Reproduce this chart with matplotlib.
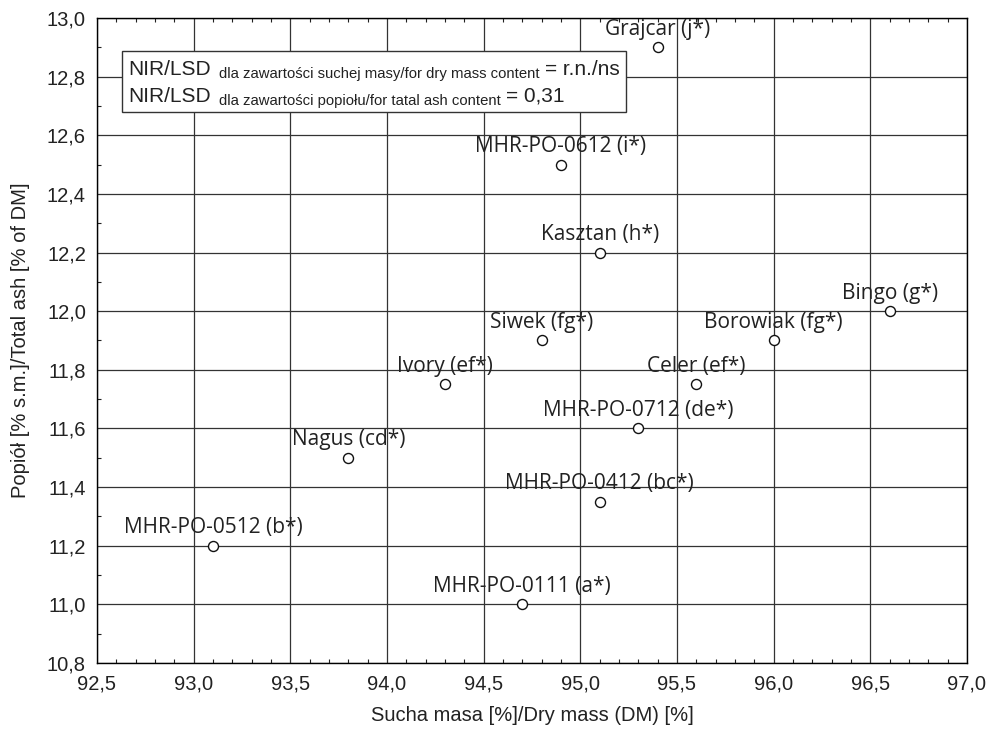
import matplotlib.pyplot as plt
from matplotlib.ticker import MultipleLocator, FuncFormatter
from matplotlib.patches import Rectangle

# data
names = ['Grajcar (j*)', 'MHR-PO-0612 (i*)', 'Kasztan (h*)', 'Bingo (g*)',
         'Siwek (fg*)', 'Borowiak (fg*)', 'Ivory (ef*)', 'Celer (ef*)',
         'MHR-PO-0712 (de*)', 'Nagus (cd*)', 'MHR-PO-0412 (bc*)',
         'MHR-PO-0512 (b*)', 'MHR-PO-0111 (a*)']
dry_mass = [95.4, 94.9, 95.1, 96.6, 94.8, 96.0, 94.3, 95.6, 95.3, 93.8, 95.1, 93.1, 94.7]
ash = [12.9, 12.5, 12.2, 12.0, 11.9, 11.9, 11.75, 11.75, 11.6, 11.5, 11.35, 11.2, 11.0]

lsd_rows = [('dla zawartości suchej masy/for dry mass content', '= r.n./ns'),
            ('dla zawartości popiołu/for tatal ash content', '= 0,31')]

plt.rcParams['font.family'] = ['Liberation Sans', 'DejaVu Sans']
W, H = 990, 736

fig = plt.figure(figsize=(9.9, 7.36), dpi=100)
ax = fig.add_axes([97/W, 73/H, 870/W, 645/H])

ax.scatter(dry_mass, ash, s=52, facecolors='white', edgecolors='#111111',
           linewidths=1.0, zorder=3)
for n, x, y in zip(names, dry_mass, ash):
    ax.annotate(n, (x, y), xytext=(0, 9), textcoords='offset points',
                ha='center', va='baseline', fontsize=15, family='Open Sans',
                color='#222222', zorder=4)

ax.set_xlim(92.5, 97.0)
ax.set_ylim(10.8, 13.0)
ax.xaxis.set_major_locator(MultipleLocator(0.5))
ax.xaxis.set_minor_locator(MultipleLocator(0.1))
ax.yaxis.set_major_locator(MultipleLocator(0.2))
ax.yaxis.set_minor_locator(MultipleLocator(0.1))
comma = FuncFormatter(lambda v, p: f'{v:.1f}'.replace('.', ','))
ax.xaxis.set_major_formatter(comma)
ax.yaxis.set_major_formatter(comma)
ax.tick_params(which='both', direction='in', top=True, labelsize=14.5,
               colors='#222222')
ax.tick_params(which='major', length=0, pad=8)
ax.tick_params(which='minor', length=3, width=0.8)
ax.grid(True, which='major', color='#333333', linewidth=0.9)
ax.set_axisbelow(True)
for s in ax.spines.values():
    s.set_linewidth(1.0)

ax.set_xlabel('Sucha masa [%]/Dry mass (DM) [%]', fontsize=14.5, labelpad=9,
              color='#222222')
ax.set_ylabel('Popiół [% s.m.]/Total ash [% of DM]', fontsize=14.5, labelpad=12,
              color='#222222')

# annotation box with LSD values
box = Rectangle((122/W, 1 - 112/H), 504/W, 61/H, transform=fig.transFigure,
                facecolor='white', edgecolor='#333333', linewidth=1.0,
                zorder=5, clip_on=False)
ax.add_patch(box)

fig.canvas.draw()
r = fig.canvas.get_renderer()
for (small, val), base in zip(lsd_rows, [75, 102]):
    yb = (H - base) / H
    t1 = ax.text(128/W, yb, 'NIR/LSD', fontsize=15, va='baseline',
                 transform=fig.transFigure, zorder=6, color='#222222')
    x1 = t1.get_window_extent(r).x1
    t2 = ax.text((x1 + 8)/W, yb - 3/H, small, fontsize=10.7, va='baseline',
                 transform=fig.transFigure, zorder=6, color='#222222')
    x2 = t2.get_window_extent(r).x1
    ax.text((x2 + 6)/W, yb, val, fontsize=15, va='baseline',
            transform=fig.transFigure, zorder=6, color='#222222')

plt.savefig('out.png')
